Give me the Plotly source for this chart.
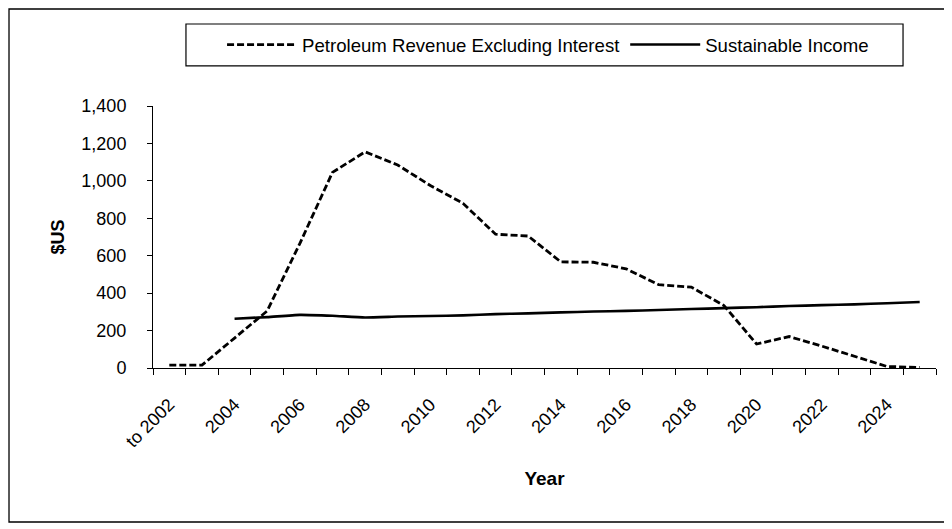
import plotly.graph_objects as go

categories = ["to 2002"] + [str(y) for y in range(2003, 2026)]
tick_labels = [c if i % 2 == 0 else "" for i, c in enumerate(categories)]

petroleum_revenue = [15, 15, 160, 305, 665, 1045, 1155, 1085, 975, 880, 715, 705,
                     567, 565, 530, 445, 432, 334, 128, 168, 117, 64, 8, 3]
sustainable_income = [None, None, 263, 272, 284, 279, 270, 275, 278, 281, 288, 292,
                      297, 302, 305, 310, 315, 320, 325, 331, 336, 340, 346, 353]

FONT = "Liberation Sans, Arial, sans-serif"

fig = go.Figure()
fig.add_trace(go.Scatter(
    x=categories, y=petroleum_revenue, mode="lines",
    name="Petroleum Revenue Excluding Interest",
    line=dict(color="black", width=2.8, dash="7px,3px"),
))
fig.add_trace(go.Scatter(
    x=categories, y=sustainable_income, mode="lines",
    name="Sustainable Income",
    line=dict(color="black", width=2.6, shape="spline", smoothing=0.5),
))

# outer chart border and legend box
fig.add_shape(type="rect", xref="paper", yref="paper",
              x0=-0.1839, x1=1.0128, y0=-0.5878, y1=1.3702,
              line=dict(color="black", width=1.3), layer="below")
fig.add_shape(type="rect", xref="paper", yref="paper",
              x0=0.0421, x1=0.9579, y0=1.153, y1=1.313,
              line=dict(color="black", width=1.2), layer="below")

fig.update_layout(
    width=944, height=521,
    margin=dict(l=145, r=16, t=98, b=161, autoexpand=False),
    paper_bgcolor="white", plot_bgcolor="white",
    font=dict(family=FONT, size=18, color="black"),
    showlegend=True,
    legend=dict(orientation="h", x=0.0882, xanchor="left", y=1.233, yanchor="middle",
                bgcolor="rgba(0,0,0,0)", borderwidth=0,
                font=dict(family=FONT, size=18.6, color="black"),
                itemwidth=70),
    xaxis=dict(
        type="category", range=[-0.5, len(categories) - 0.5],
        tickmode="array", tickvals=categories, ticktext=tick_labels,
        tickson="boundaries", ticks="outside", ticklen=6, tickwidth=1, tickcolor="black",
        tickangle=-45, showline=True, linecolor="black", linewidth=1,
        showgrid=False, zeroline=False, ticklabelstandoff=18,
        title=dict(text="<b>Year</b>", font=dict(family=FONT, size=19), standoff=21),
        automargin=False,
    ),
    yaxis=dict(
        range=[0, 1400], tickmode="linear", tick0=0, dtick=200, tickformat=",d",
        ticks="outside", ticklen=5, tickwidth=1, tickcolor="black",
        showline=True, linecolor="black", linewidth=1,
        showgrid=False, zeroline=False, ticklabelstandoff=17,
        title=dict(text="<b>$US</b>", font=dict(family=FONT, size=18), standoff=12),
        automargin=False,
    ),
)

fig.write_html("out.html")
